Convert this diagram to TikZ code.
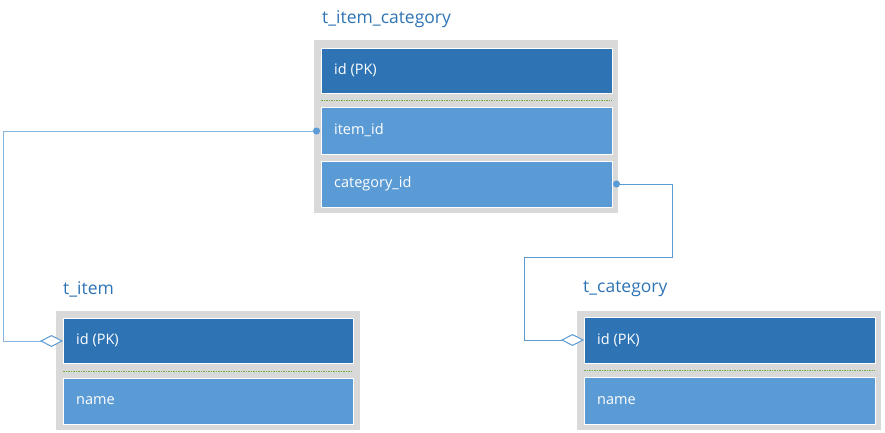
\documentclass[tikz,border=0pt]{standalone}
\usepackage{fontspec}
\setmainfont{Open Sans}
\usetikzlibrary{arrows.meta}
\definecolor{dkb}{HTML}{2E74B5}
\definecolor{ltb}{HTML}{5B9BD5}
\definecolor{frame}{HTML}{D9D9D9}
\definecolor{lnk}{HTML}{8AB4E0}
\definecolor{lnkb}{HTML}{5B9BD5}
\definecolor{grn}{HTML}{70AD47}
\tikzset{
  x=1pt,y=-1pt,
  tbl/.style={fill=frame,draw=none},
  pk/.style={fill=dkb,draw=white,line width=0.8pt},
  fld/.style={fill=ltb,draw=white,line width=0.8pt},
  ftext/.style={text=white,font=\fontsize{14.5}{17}\selectfont,anchor=west,inner sep=0pt},
  ttl/.style={text=dkb,font=\fontsize{17.5}{20}\selectfont,anchor=west,inner sep=0pt},
  sep/.style={draw=grn,dashed,dash pattern=on 1.5pt off 1pt,line width=0.6pt},
  link/.style={draw=lnk,line width=1pt},
  linkb/.style={draw=lnkb,line width=1pt},
  ends/.style={{Circle[length=7pt,color=lnkb]}-{Diamond[open,length=23pt,width=12pt,fill=white,color=lnkb]}}
}
\begin{document}
\begin{tikzpicture}
\useasboundingbox (0,0) rectangle (885,433);
% t_item_category
\node[ttl] (t1) at (322,19) {t\_item\_category};
\path[tbl] (314,40) rectangle (618,213);
\path[pk] (321,48) rectangle (612,93);
\draw[sep] (321,100) -- (612,100);
\path[fld] (321,107) rectangle (612,154);
\path[fld] (321,161) rectangle (612,207);
\node[ftext] (c1) at (334,70.5) {id (PK)};
\node[ftext] (c2) at (334,130.5) {item\_id};
\node[ftext] (c3) at (334,184) {category\_id};
\coordinate (p1) at (320,131);
\coordinate (p2) at (613,184);
% t_item
\node[ttl] (t2) at (63,289) {t\_item};
\path[tbl] (56,311) rectangle (360,430);
\path[pk] (63,318) rectangle (353,363);
\draw[sep] (63,371) -- (353,371);
\path[fld] (63,378) rectangle (353,424);
\node[ftext] (i1) at (76,340.5) {id (PK)};
\node[ftext] (i2) at (76,401) {name};
\coordinate (q1) at (63,341);
% t_category
\node[ttl] (t3) at (583,289) {t\_category};
\path[tbl] (577,311) rectangle (881,430);
\path[pk] (584,317) rectangle (875,363);
\draw[sep] (584,370) -- (875,370);
\path[fld] (584,377) rectangle (875,424);
\node[ftext] (k1) at (597,340) {id (PK)};
\node[ftext] (k2) at (597,400.5) {name};
\coordinate (q2) at (584,340);
% links
\draw[link,ends] (p1) -- (3,131) -- (3,341) -- (q1);
\draw[linkb,ends] (p2) -- (672,184) -- (672,257) -- (524,257) -- (524,340) -- (q2);
\end{tikzpicture}
\end{document}
